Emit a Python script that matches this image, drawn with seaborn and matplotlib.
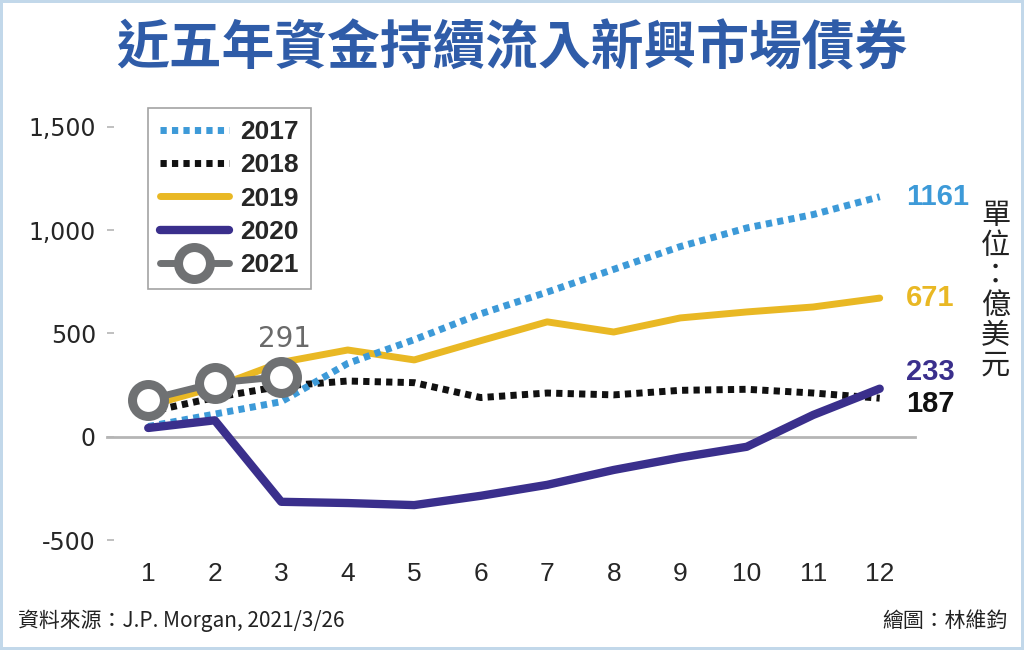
import seaborn as sns
import pandas as pd
from matplotlib import pyplot as plt

# monthly cumulative flows (億美元)
months = list(range(1, 13))
y2017 = [50, 110, 170, 355, 470, 595, 700, 810, 920, 1010, 1075, 1161]
y2018 = [120, 190, 245, 270, 262, 190, 212, 203, 225, 230, 212, 187]
y2019 = [150, 240, 360, 420, 372, 465, 556, 507, 575, 604, 628, 671]
y2020 = [43, 80, -314, -320, -330, -285, -232, -160, -100, -48, 106, 233]
y2021 = [180, 260, 291]
years = ["2017", "2018", "2019", "2020", "2021"]
yticks = [-500, 0, 500, 1000, 1500]
ytick_labels = ["-500", "0", "500", "1,000", "1,500"]

title = "近五年資金持續流入新興市場債券"
source = "資料來源：J.P. Morgan, 2021/3/26"
credit = "繪圖：林維鈞"
unit = "單位：億美元"

rows = []
for yr, vals in zip(years, [y2017, y2018, y2019, y2020, y2021]):
    for m, v in zip(months, vals):
        rows.append({"year": yr, "month": m, "value": v})
df = pd.DataFrame(rows)

sns.set_style("white")
plt.rcParams["font.family"] = ["DejaVu Sans", "Noto Sans CJK TC"]
cjk = ["Noto Sans CJK TC", "DejaVu Sans"]
num = ["Liberation Sans", "DejaVu Sans"]

fig = plt.figure(figsize=(10.24, 6.5), dpi=100)
fig.patch.set_edgecolor("#c2d8ea")
fig.patch.set_linewidth(3)
ax = fig.add_axes([0.1045, 0.137, 0.789, 0.70])

styles = {
    "2017": dict(color="#3d9ad8", lw=5, ls=(0, (0.9, 0.75)), zorder=4),
    "2018": dict(color="#111111", lw=5, ls=(0, (0.9, 0.75)), zorder=3),
    "2019": dict(color="#e9b824", lw=5, ls="-", zorder=2),
    "2020": dict(color="#3a2f8c", lw=6, ls="-", zorder=5),
    "2021": dict(color="#6f7173", lw=5, ls="-", zorder=6),
}

for yr in years:
    st = styles[yr]
    sub = df[df["year"] == yr]
    kw = {}
    if yr == "2021":
        kw = dict(marker="o", markersize=23, markerfacecolor="white",
                  markeredgecolor=st["color"], markeredgewidth=6.5)
    sns.lineplot(data=sub, x="month", y="value", ax=ax, label=yr,
                 color=st["color"], linewidth=st["lw"], linestyle=st["ls"],
                 zorder=st["zorder"], **kw)

ax.set_xlim(0.38, 12.53)
ax.set_ylim(-600, 1600)
ax.set_xlabel("")
ax.set_ylabel("")

for s in ["top", "right", "left"]:
    ax.spines[s].set_visible(False)
ax.spines["bottom"].set_position(("data", 0))
ax.spines["bottom"].set_color("#b5b5b5")
ax.spines["bottom"].set_linewidth(2)
ax.spines["bottom"].set_zorder(1)

ax.set_xticks(months)
ax.set_xticklabels([str(m) for m in months], fontsize=19, family=num)
ax.tick_params(axis="x", direction="out", length=6, width=1.5,
               color="#b5b5b5", pad=84)
ax.set_yticks(yticks)
ax.set_yticklabels(ytick_labels, fontsize=17)
ax.tick_params(axis="y", direction="in", length=5, width=1.2,
               color="#b5b5b5", pad=8, left=True)

leg = ax.legend(loc="upper left", bbox_to_anchor=(0.051, 0.995),
                borderaxespad=0, frameon=True, fancybox=False,
                prop={"family": num, "size": 19, "weight": "bold"},
                edgecolor="#8c8c8c", handlelength=2.6, handletextpad=0.45,
                labelspacing=0.35, borderpad=0.45)
leg.get_frame().set_linewidth(1.2)

# end-of-year labels
ends = [("2017", y2017[-1], 0), ("2019", y2019[-1], 0),
        ("2020", y2020[-1], 12), ("2018", y2018[-1], -4)]
for yr, v, dy in ends:
    ax.annotate(str(v), xy=(12, v), xytext=(19, dy), textcoords="offset points",
                ha="left", va="center", fontsize=21, fontweight="bold",
                family=num, color=styles[yr]["color"], annotation_clip=False)
ax.annotate(str(y2021[-1]), xy=(3, y2021[-1]), xytext=(2, 27),
            textcoords="offset points", ha="center", va="center",
            fontsize=20, color="#6a6a6a")

fig.text(0.5, 0.925, title, ha="center", va="center", fontsize=38,
         fontweight="bold", color="#2f5ca8", family=cjk)
fig.text(0.972, 0.553, "\n".join(unit), ha="center", va="center",
         fontsize=21, color="#222222", family=cjk, linespacing=1.0)
fig.text(0.018, 0.045, source, ha="left", va="center", fontsize=15,
         color="#222222", family=cjk)
fig.text(0.984, 0.045, credit, ha="right", va="center", fontsize=15,
         color="#222222", family=cjk)

fig.savefig("out.png", dpi=100)
